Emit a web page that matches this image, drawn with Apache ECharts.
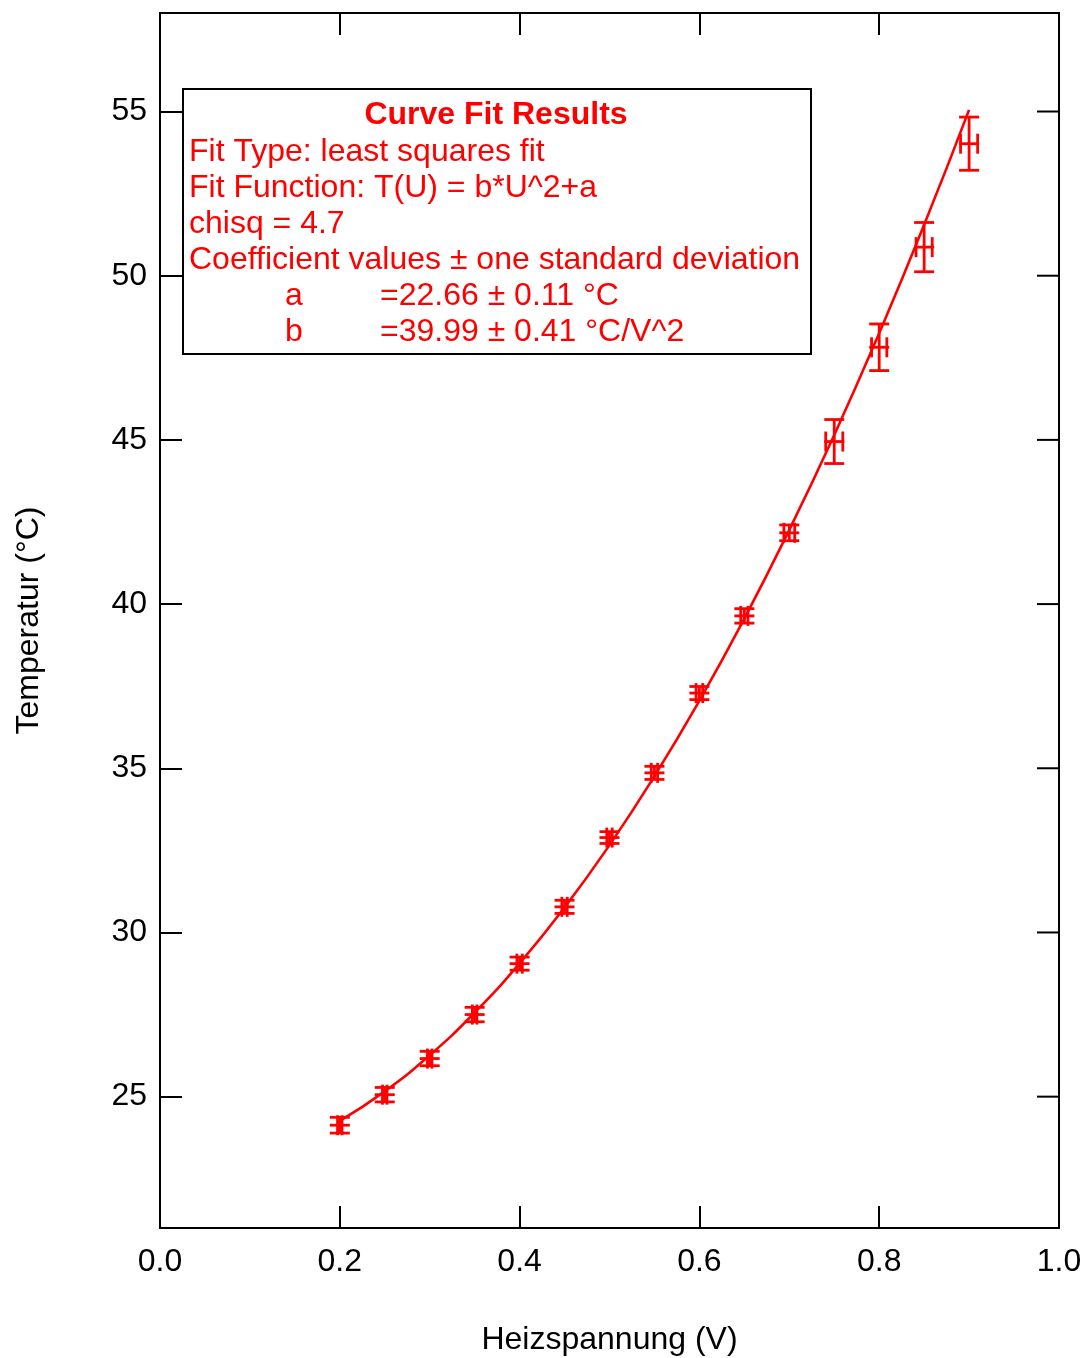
<!DOCTYPE html>
<html>
<head>
<meta charset="utf-8">
<script src="https://cdn.jsdelivr.net/npm/echarts@6/dist/echarts.min.js"></script>
<style>
  html, body { margin: 0; padding: 0; background: #fff; }
  #chart { width: 1084px; height: 1358px; }
</style>
</head>
<body>
<div id="chart"></div>
<script>
// measured points
const voltage = [0.2, 0.25, 0.3, 0.35, 0.4, 0.45, 0.5, 0.55, 0.6, 0.65, 0.7, 0.75, 0.8, 0.85, 0.9];
const temperature = [24.13, 25.06, 26.16, 27.50, 29.05, 30.78, 32.89, 34.86, 37.29, 39.64, 42.17, 44.95, 47.82, 50.87, 54.02];
const tempErr = [0.24, 0.22, 0.22, 0.22, 0.2, 0.2, 0.18, 0.2, 0.2, 0.22, 0.24, 0.67, 0.71, 0.75, 0.81];
const voltErr = [0.0025, 0.0025, 0.0025, 0.0025, 0.003, 0.003, 0.003, 0.0035, 0.0037, 0.004, 0.006, 0.0095, 0.0085, 0.009, 0.0095];
// fit curve
const fitU = [0.2, 0.25, 0.3, 0.35, 0.4, 0.45, 0.5, 0.55, 0.6, 0.65, 0.7, 0.75, 0.8, 0.85, 0.9];
const fitT = [24.26, 25.16, 26.26, 27.56, 29.06, 30.76, 32.66, 34.76, 37.06, 39.56, 42.26, 45.15, 48.25, 51.55, 55.05];
const yTicks = [25, 30, 35, 40, 45, 50, 55];
const boxLines = [
  'Fit Type: least squares fit',
  'Fit Function: T(U) = b*U^2+a',
  'chisq = 4.7',
  'Coefficient values \u00b1 one standard deviation'
];
const coefNames = ['a', 'b'];
const coefValues = ['=22.66 \u00b1 0.11 \u00b0C', '=39.99 \u00b1 0.41 \u00b0C/V^2'];

const RED = '#ff0000';
const FONT = '"Liberation Sans", Arial, sans-serif';
const TICK_LEN = 22;

let chart = echarts.init(document.getElementById('chart'));

let pts = voltage.map((u, i) => [u, temperature[i], voltErr[i], tempErr[i]]);
let fitData = fitU.map((u, i) => [u, fitT[i]]);

function errBars(params, api) {
  let u = api.value(0), t = api.value(1), dx = api.value(2), dy = api.value(3);
  let c = api.coord([u, t]);
  let top = api.coord([u, t + dy]);
  let bot = api.coord([u, t - dy]);
  let lft = api.coord([u - dx, t]);
  let rgt = api.coord([u + dx, t]);
  let st = { stroke: RED, lineWidth: 2.8, fill: null };
  let cw = 10, ch = 10;
  let seg = (x1, y1, x2, y2) => ({ type: 'line', shape: { x1, y1, x2, y2 }, style: st });
  return {
    type: 'group',
    children: [
      seg(c[0], top[1], c[0], bot[1]),
      seg(c[0] - cw, top[1], c[0] + cw, top[1]),
      seg(c[0] - cw, bot[1], c[0] + cw, bot[1]),
      seg(c[0] - cw, c[1], c[0] + cw, c[1]),
      seg(lft[0], c[1] - ch, lft[0], c[1] + ch),
      seg(rgt[0], c[1] - ch, rgt[0], c[1] + ch)
    ]
  };
}

// mirrored ticks on the right edge
function rightTicks(params, api) {
  let p = api.coord([1, api.value(0)]);
  return {
    type: 'line',
    shape: { x1: p[0], y1: p[1], x2: p[0] - TICK_LEN, y2: p[1] },
    style: { stroke: '#000', lineWidth: 2 }
  };
}

let axisLine = { show: true, lineStyle: { color: '#000', width: 2 } };
let tickStyle = { color: '#000', width: 2 };

let graphics = [
  {
    type: 'rect', left: 182, top: 88, z: 10,
    shape: { width: 628, height: 265 },
    style: { fill: '#fff', stroke: '#000', lineWidth: 2 }
  },
  {
    type: 'text', x: 496, y: 115, z: 11,
    style: { text: 'Curve Fit Results', fill: RED, fontSize: 32, fontWeight: 'bold', fontFamily: FONT, align: 'center', verticalAlign: 'middle' }
  }
];
boxLines.forEach((s, i) => {
  graphics.push({
    type: 'text', x: 189, y: 152 + i * 36, z: 11,
    style: { text: s, fill: RED, fontSize: 32, fontFamily: FONT, align: 'left', verticalAlign: 'middle' }
  });
});
coefNames.forEach((s, i) => {
  graphics.push({
    type: 'text', x: 285, y: 296 + i * 36, z: 11,
    style: { text: s, fill: RED, fontSize: 32, fontFamily: FONT, align: 'left', verticalAlign: 'middle' }
  });
  graphics.push({
    type: 'text', x: 380, y: 296 + i * 36, z: 11,
    style: { text: coefValues[i], fill: RED, fontSize: 32, fontFamily: FONT, align: 'left', verticalAlign: 'middle' }
  });
});

let option = {
  animation: false,
  backgroundColor: '#fff',
  textStyle: { fontFamily: FONT },
  grid: {
    left: 160, right: 25, top: 13, bottom: 130, outerBoundsMode: 'none', containLabel: false,
    show: true, borderColor: '#000', borderWidth: 2, backgroundColor: 'transparent'
  },
  xAxis: [
    {
      type: 'value', min: 0, max: 1, interval: 0.2, position: 'bottom',
      name: 'Heizspannung (V)', nameLocation: 'middle', nameGap: 96,
      nameTextStyle: { fontSize: 32, color: '#000', fontFamily: FONT },
      axisLine: axisLine,
      axisTick: { show: true, inside: true, length: TICK_LEN, lineStyle: tickStyle },
      axisLabel: { fontSize: 32, color: '#000', margin: 18, fontFamily: FONT, formatter: v => v.toFixed(1) },
      splitLine: { show: false }
    },
    {
      type: 'value', min: 0, max: 1, interval: 0.2, position: 'top',
      axisLine: axisLine,
      axisTick: { show: true, inside: true, length: TICK_LEN, lineStyle: tickStyle },
      axisLabel: { show: false },
      splitLine: { show: false }
    }
  ],
  yAxis: [
    {
      type: 'value', min: 21, max: 58, position: 'left',
      name: 'Temperatur (\u00b0C)', nameLocation: 'middle', nameGap: 115,
      nameTextStyle: { fontSize: 32, color: '#000', fontFamily: FONT },
      axisLine: axisLine,
      axisTick: { show: true, inside: true, length: TICK_LEN, lineStyle: tickStyle, customValues: yTicks },
      axisLabel: { fontSize: 32, color: '#000', margin: 13, fontFamily: FONT, customValues: yTicks },
      splitLine: { show: false }
    }
  ],
  series: [
    {
      type: 'line', data: fitData, smooth: true, showSymbol: false,
      lineStyle: { color: RED, width: 2.6 }, z: 3
    },
    {
      type: 'custom', data: pts, renderItem: errBars, z: 4,
      encode: { x: 0, y: 1 }
    },
    {
      type: 'custom', data: yTicks.map(v => [v]), renderItem: rightTicks, z: 2,
      encode: { y: 0 }, silent: true
    }
  ],
  graphic: graphics
};
chart.setOption(option);
</script>
</body>
</html>
